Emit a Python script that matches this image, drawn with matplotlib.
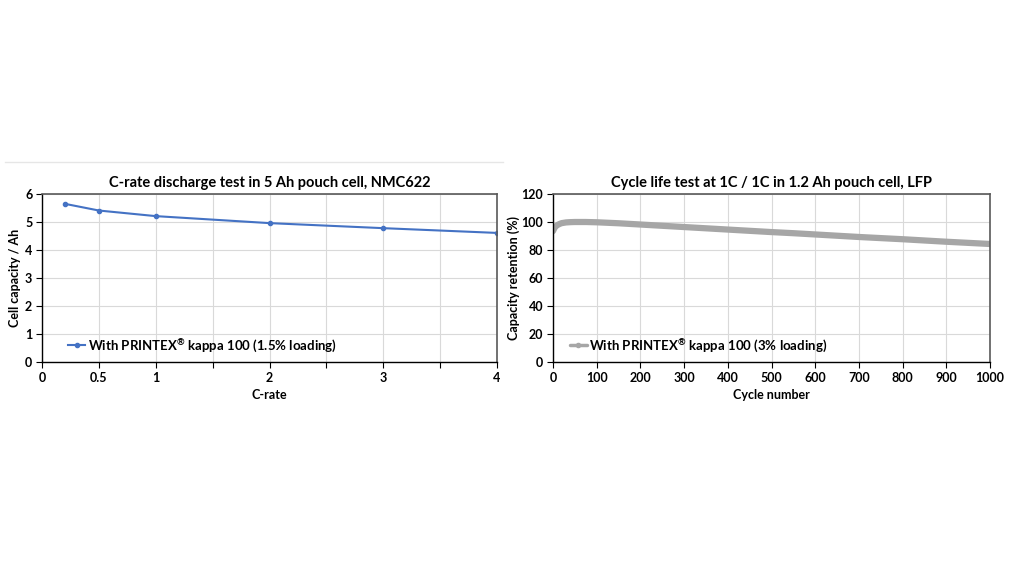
import matplotlib
matplotlib.use("Agg")
import matplotlib.pyplot as plt
from matplotlib.lines import Line2D

plt.rcParams['font.family'] = ['Lato', 'DejaVu Sans']
plt.rcParams['font.weight'] = 'bold'
plt.rcParams['mathtext.fontset'] = 'custom'
plt.rcParams['mathtext.rm'] = 'Lato:bold'
plt.rcParams['mathtext.bf'] = 'Lato:bold'
plt.rcParams['mathtext.default'] = 'bf'

# Left chart data
c_rate = [0.2, 0.5, 1, 2, 3, 4]
capacity_ah = [5.65, 5.41, 5.21, 4.96, 4.78, 4.61]
left_xticks = [0, 0.5, 1, 1.5, 2, 2.5, 3, 3.5, 4]
left_xticklabels = ['0', '0.5', '1', '', '2', '', '3', '', '4']
left_yticks = [0, 1, 2, 3, 4, 5, 6]

# Right chart data
cycles = [0, 3, 6, 10, 15, 20, 30, 40, 50, 75, 100, 150, 200, 250, 300, 350, 400,
          450, 500, 550, 600, 650, 700, 750, 800, 850, 900, 950, 1000]
retention = [93.5, 95.5, 96.8, 97.8, 98.6, 99.2, 99.7, 99.9, 100.0, 100.0, 99.8, 99.1,
             98.2, 97.3, 96.4, 95.5, 94.6, 93.7, 92.8, 92.0, 91.1, 90.2, 89.3, 88.5,
             87.7, 86.8, 85.9, 85.1, 84.3]
right_xticks = list(range(0, 1001, 100))
right_yticks = list(range(0, 121, 20))

fig = plt.figure(figsize=(10.24, 5.76), dpi=100)
fig.patch.set_facecolor('white')

# faint separator line
fig.add_artist(Line2D([5/1024, 503/1024], [1-162/576, 1-162/576], color='#e6e6e6', lw=1))

W, H = 1024, 576
def ax_rect(x0, x1, y0, y1):
    return [x0/W, 1-y1/H, (x1-x0)/W, (y1-y0)/H]

ax1 = fig.add_axes(ax_rect(42, 497, 194, 362))
ax2 = fig.add_axes(ax_rect(553, 990, 194, 362))

blue = '#4472c4'
gray = '#a6a6a6'

ax1.plot(c_rate, capacity_ah, color=blue, lw=1.5, marker='o', ms=3,
         label='With PRINTEX$^{®}$ kappa 100 (1.5% loading)')
ax1.set_xlim(0, 4)
ax1.set_ylim(0, 6)
ax1.set_xticks(left_xticks)
ax1.set_xticklabels(left_xticklabels)
ax1.set_yticks(left_yticks)
ax1.set_title('C-rate discharge test in 5 Ah pouch cell, NMC622', fontsize=10.5,
              fontweight='bold', pad=5)
ax1.set_xlabel('C-rate', fontsize=9, fontweight='bold', labelpad=4)
ax1.set_ylabel('Cell capacity / Ah', fontsize=9, fontweight='bold', labelpad=3)

ax2.plot(cycles, retention, color=gray, lw=4.5, solid_capstyle='round',
         label='With PRINTEX$^{®}$ kappa 100 (3% loading)')
ax2.set_xlim(0, 1000)
ax2.set_ylim(0, 120)
ax2.set_xticks(right_xticks)
ax2.set_yticks(right_yticks)
ax2.set_title('Cycle life test at 1C / 1C in 1.2 Ah pouch cell, LFP', fontsize=10.5,
              fontweight='bold', pad=5)
ax2.set_xlabel('Cycle number', fontsize=9, fontweight='bold', labelpad=4)
ax2.set_ylabel('Capacity retention (%)', fontsize=9, fontweight='bold', labelpad=1)

for ax in (ax1, ax2):
    ax.grid(True, color='#d9d9d9', lw=0.8)
    ax.set_axisbelow(True)
    for s in ('top', 'right'):
        ax.spines[s].set_color('#595959')
        ax.spines[s].set_linewidth(1.2)
    for s in ('left', 'bottom'):
        ax.spines[s].set_color('#000000')
        ax.spines[s].set_linewidth(1.0)
    ax.tick_params(direction='out', length=4, width=0.8, labelsize=9, pad=3)
    for lab in ax.get_xticklabels() + ax.get_yticklabels():
        lab.set_fontweight('bold')

ax1.legend(loc='lower left', frameon=False, prop={'size': 9.5, 'weight': 'bold'},
           handlelength=1.3, handletextpad=0.2, borderaxespad=0.2,
           bbox_to_anchor=(0.04, 0.0))
leg2 = ax2.legend(loc='lower left', frameon=False, prop={'size': 9.5, 'weight': 'bold'},
                  handlelength=1.3, handletextpad=0.2, borderaxespad=0.2,
                  bbox_to_anchor=(0.02, 0.0))
for line in leg2.get_lines():
    line.set_linewidth(2.5)
    line.set_marker('o')
    line.set_markersize(3)

fig.savefig('out.png', dpi=100, facecolor='white')
